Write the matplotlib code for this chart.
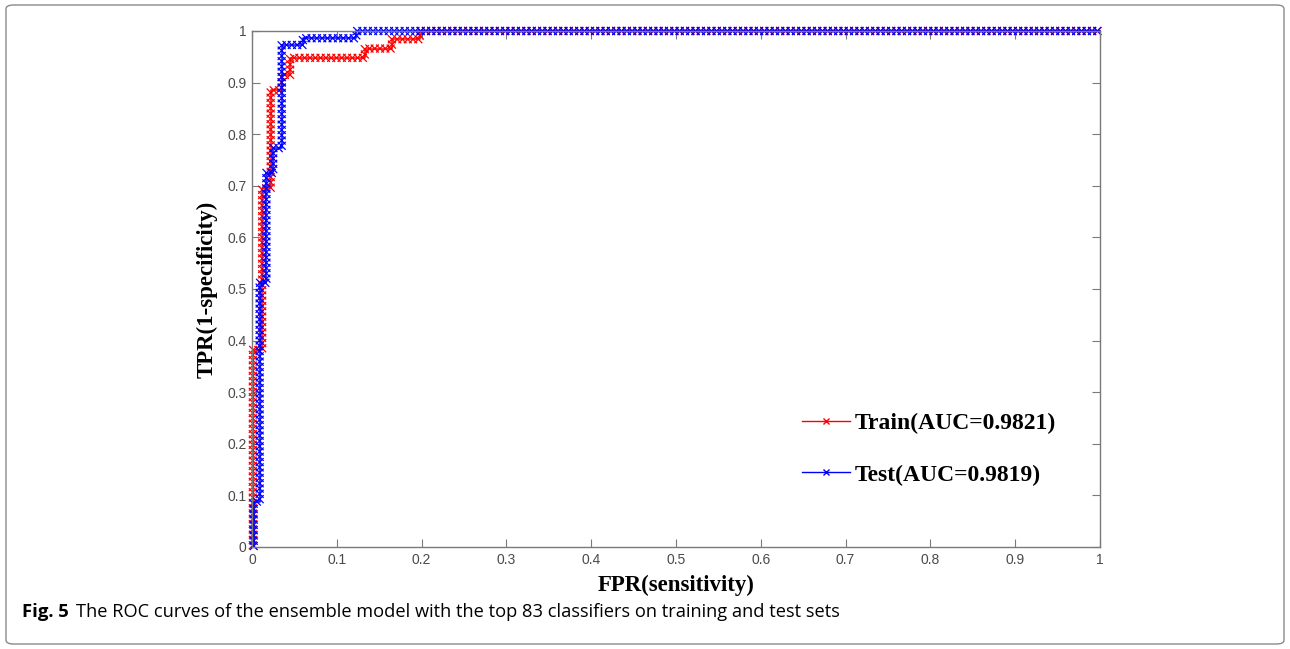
import matplotlib
matplotlib.use("Agg")
import matplotlib.pyplot as plt
from matplotlib.patches import FancyBboxPatch
from matplotlib.lines import Line2D
import matplotlib.patheffects as pe

# ROC step vertices (FPR, TPR)
train_fpr = [0.0, 0.001, 0.001, 0.012, 0.012, 0.022, 0.022, 0.035, 0.035, 0.045, 0.045, 0.133, 0.133, 0.165, 0.165, 0.198, 0.198, 1.0]
train_tpr = [0.0, 0.0, 0.382, 0.382, 0.695, 0.695, 0.885, 0.885, 0.915, 0.915, 0.948, 0.948, 0.966, 0.966, 0.984, 0.984, 1.0, 1.0]
test_fpr = [0.0, 0.002, 0.002, 0.009, 0.009, 0.017, 0.017, 0.025, 0.025, 0.035, 0.035, 0.060, 0.060, 0.123, 0.123, 1.0]
test_tpr = [0.0, 0.0, 0.088, 0.088, 0.512, 0.512, 0.725, 0.725, 0.773, 0.773, 0.973, 0.973, 0.986, 0.986, 1.0, 1.0]

labels = ["Train(AUC=0.9821)", "Test(AUC=0.9819)"]
colors = ["#ff0000", "#0000ff"]
ticks = [0, 0.1, 0.2, 0.3, 0.4, 0.5, 0.6, 0.7, 0.8, 0.9, 1]
tick_labels = ["0", "0.1", "0.2", "0.3", "0.4", "0.5", "0.6", "0.7", "0.8", "0.9", "1"]

W, H = 1290, 649
fig = plt.figure(figsize=(W / 100, H / 100), dpi=100)

# outer rounded frame
frame = FancyBboxPatch((6 / W, 5 / H), (1284 - 6) / W, (644 - 5) / H,
                       boxstyle="round,pad=0,rounding_size=0.006",
                       transform=fig.transFigure, facecolor="none",
                       edgecolor="#8a8a8a", linewidth=1.0, zorder=-1)
fig.patches.append(frame)

ax = fig.add_axes([252 / W, 1 - 547 / H, (1100 - 252) / W, (547 - 31) / H])
ax.set_facecolor("none")


def x_marks(color):
    # dense 'x' markers along the curve, like the MATLAB ROC points
    effects = [pe.Stroke()]
    for ang in (45, 135, -45, -135):
        effects.append(pe.TickedStroke(spacing=3.8, angle=ang, length=0.95,
                                       linewidth=0.9, foreground=color))
    return effects


for fx, ty, c in ((train_fpr, train_tpr, colors[0]), (test_fpr, test_tpr, colors[1])):
    ax.plot(fx, ty, color=c, lw=1.1, path_effects=x_marks(c), clip_on=False)

ax.set_xlim(0, 1)
ax.set_ylim(0, 1)
ax.set_xticks(ticks)
ax.set_xticklabels(tick_labels)
ax.set_yticks(ticks)
ax.set_yticklabels(tick_labels)
for s in ax.spines.values():
    s.set_color("#7a7a7a")
    s.set_linewidth(1.0)
ax.tick_params(direction="in", length=5.5, width=0.8, color="#7a7a7a",
               top=True, right=True, labelsize=10, labelcolor="#4a4a4a", pad=4)
for t in ax.get_xticklabels() + ax.get_yticklabels():
    t.set_fontfamily("Liberation Sans")

ax.set_xlabel("FPR(sensitivity)", fontfamily="Liberation Serif", fontweight="bold",
              fontsize=16.5, labelpad=6)
ax.set_ylabel("TPR(1-specificity)", fontfamily="Liberation Serif", fontweight="bold",
              fontsize=16.5, labelpad=7)

handles = [Line2D([], [], color=c, lw=1.0, marker="x", ms=5, mew=1.0) for c in colors]
leg = ax.legend(handles, labels, loc="upper left", bbox_to_anchor=(0.638, 0.279),
                frameon=False, numpoints=1, handlelength=2.0, handletextpad=0.2,
                labelspacing=1.28, borderaxespad=0,
                prop={"family": "Liberation Serif", "weight": "bold", "size": 17})

# caption
fig.text(22 / W, 1 - 612 / H, "Fig. 5", fontfamily="Open Sans", fontweight="bold",
         fontsize=13.3, va="center", ha="left")
fig.text(76 / W, 1 - 612 / H,
         "The ROC curves of the ensemble model with the top 83 classifiers on training and test sets",
         fontfamily="Open Sans", fontsize=13.15, va="center", ha="left")

fig.savefig("out.png", dpi=100)
